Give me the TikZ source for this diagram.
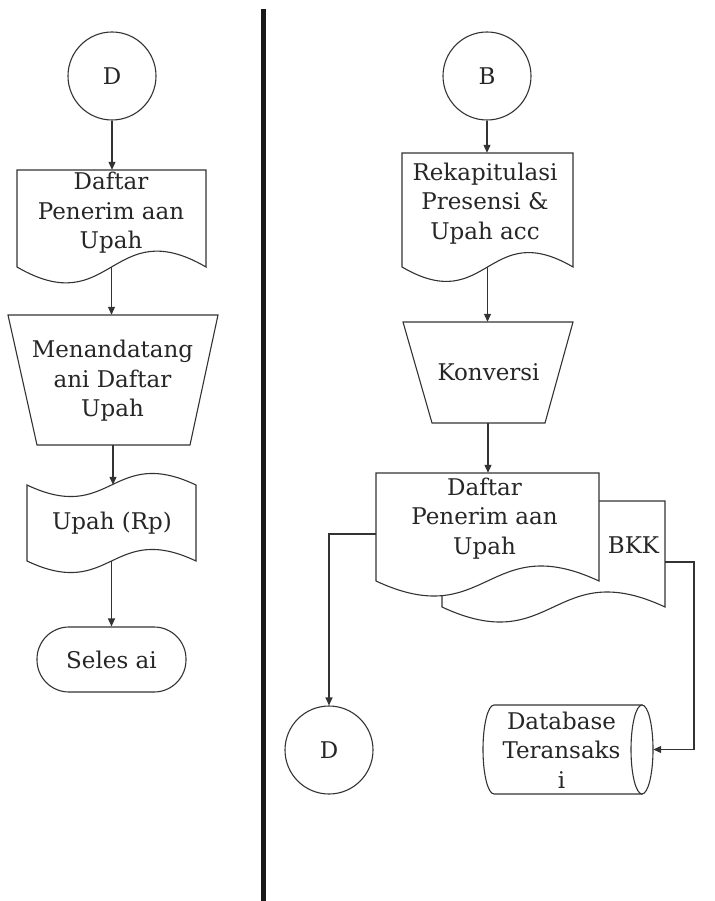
\documentclass[tikz,border=0pt]{standalone}
\usepackage{fontspec}
\setmainfont{DejaVu Serif}
\usetikzlibrary{arrows.meta,calc}
\begin{document}
\begin{tikzpicture}[x=1pt,y=-1pt,
  ln/.style={draw=black!80,line width=1.1pt},
  shp/.style={ln,fill=white},
  hold/.style={draw=none,rectangle,inner sep=0pt},
  txt/.style={align=center,inner sep=0pt,text=black!85,font=\fontsize{23pt}{29.5pt}\selectfont},
  con/.style={circle,ln,minimum size=88pt,inner sep=0pt,text=black!85,font=\fontsize{23pt}{29.5pt}\selectfont},
  arr/.style={ln,-{Triangle[length=8pt,width=7pt]}},
  lnk/.style={ln}]
\useasboundingbox (0,0) rectangle (714,901);
% divider
\draw[line width=5pt,black!90] (263,9) -- (263,901);

% ===== left column =====
\node[con] (cD1) at (112,76) {D};

\node[hold,minimum width=189pt,minimum height=97pt] (doc1) at (111.5,218.5) {};
\draw[shp] (17,170) -- (206,170) -- (206,267) .. controls (111.5,212) and (111.5,322) .. (17,267) -- cycle;
\node[txt] (t1) at (111,213) {Daftar\\Penerim aan\\Upah};

\node[hold,minimum width=210pt,minimum height=130pt] (trap1) at (113,380) {};
\draw[shp] (8,315) -- (218,315) -- (190,445) -- (37,445) -- cycle;
\node[txt] (t2) at (112.5,381) {Menandatang\\ani Daftar\\Upah};

\node[hold,minimum width=169pt,minimum height=76pt] (tape) at (111.5,523) {};
\draw[shp] (27,485) .. controls (111.5,525) and (111.5,445) .. (196,485) -- (196,561)
   .. controls (111.5,521) and (111.5,601) .. (27,561) -- cycle;
\node[txt] (t3) at (112,523) {Upah (Rp)};

\node[shp,rounded corners=32pt,minimum width=149pt,minimum height=65pt,inner sep=0pt,text=black!85,font=\fontsize{23pt}{29.5pt}\selectfont] (fin) at (111.5,659.5) {Seles ai};

\draw[arr] (cD1.south) -- (cD1.south |- doc1.north);
\draw[arr] (doc1.south) -- (doc1.south |- trap1.north);
\draw[arr] (trap1.south) -- (trap1.south |- tape.north);
\draw[arr] (tape.south) -- (tape.south |- fin.north);

% ===== right column =====
\node[con] (cB) at (487,76) {B};

\node[hold,minimum width=171pt,minimum height=114pt] (rek) at (487.5,210) {};
\draw[shp] (402,153) -- (573,153) -- (573,267) .. controls (487.5,217) and (487.5,317) .. (402,267) -- cycle;
\node[txt] (t4) at (485,203.5) {Rekapitulasi\\Presensi \&\\Upah acc};

\node[hold,minimum width=170pt,minimum height=101pt] (konv) at (488,372.5) {};
\draw[shp] (403,322) -- (573,322) -- (545,423) -- (432,423) -- cycle;
\node[txt] (t5) at (488.5,372.5) {Konversi};

% multi document
\node[hold,minimum width=223pt,minimum height=106pt] (sd) at (553.5,554) {};
\node[hold,minimum width=223pt,minimum height=108pt] (md) at (487.5,527) {};
\draw[shp] (442,501) -- (665,501) -- (665,607) .. controls (553.5,555) and (553.5,659) .. (442,607) -- cycle;
\draw[shp] (376,473) -- (599,473) -- (599,581) .. controls (487.5,529) and (487.5,633) .. (376,581) -- cycle;
\node[txt] (t6) at (484.5,518.5) {Daftar\\Penerim aan\\Upah};
\node[txt] (t7) at (633.5,545) {BKK};

\node[con] (cD2) at (329,750) {D};

% database cylinder
\node[hold,minimum width=170pt,minimum height=89pt] (db) at (568,749.5) {};
\draw[shp] (494,705) -- (642,705) -- (642,794) -- (494,794)
   arc[start angle=270,end angle=90,x radius=11pt,y radius=44.5pt] -- cycle;
\draw[shp] (642,749.5) ellipse [x radius=11pt,y radius=44.5pt];
\node[txt] (t8) at (561.5,750) {Database\\Teransaks\\i};

\draw[arr] (cB.south) -- (cB.south |- rek.north);
\draw[arr] (rek.south) -- (rek.south |- konv.north);
\draw[arr] (konv.south) -- (konv.south |- md.north);
\coordinate (mdl) at ([yshift=-7pt]md.west);
\draw[arr] (mdl) -| (cD2.north);
\coordinate (sdr) at ([yshift=-8pt]sd.east);
\coordinate (bend) at (694,0);
\draw[arr] (sdr) -| (bend |- db.east) -- (db.east);
\end{tikzpicture}
\end{document}
